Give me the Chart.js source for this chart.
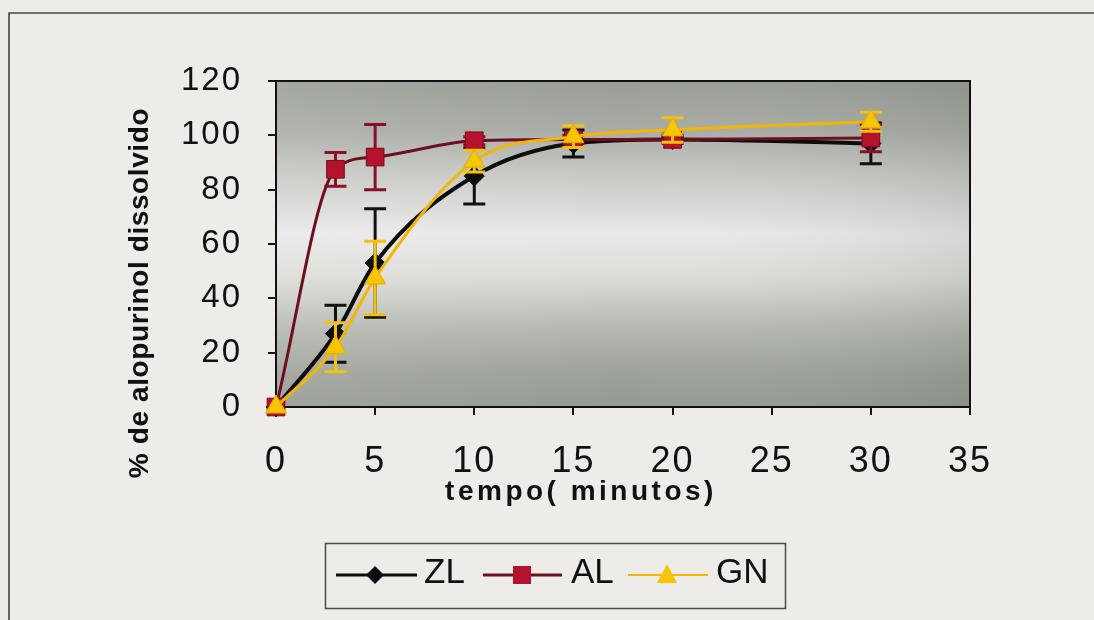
<!DOCTYPE html>
<html><head><meta charset="utf-8">
<script src="https://cdn.jsdelivr.net/npm/chart.js@4.4.0/dist/chart.umd.min.js"></script>
<style>html,body{margin:0;padding:0;background:#edece8;overflow:hidden;}canvas{display:block;}</style>
</head><body>
<canvas id="c" width="1094" height="620"></canvas>
<script>
// ---- data ----
const times = [0, 3, 5, 10, 15, 20, 30];
const zlValues = [0, 27, 53, 85, 97, 98.5, 97];
const zlErrors = [0, 10.5, 20, 10.3, 5, 1, 7.5];
const alValues = [0, 87.5, 92, 98, 98.5, 98.5, 99];
const alErrors = [0, 6.2, 12, 1.5, 1.5, 1.5, 5];
const gnValues = [0, 22, 47.5, 90.5, 99.5, 102, 105];
const gnErrors = [0, 9, 13.5, 4, 4, 4.5, 3.5];
const seriesNames = ['ZL', 'AL', 'GN'];
const xTicks = [0, 5, 10, 15, 20, 25, 30, 35];
const yTicks = [0, 20, 40, 60, 80, 100, 120];
const yTitle = '% de alopurinol dissolvido';
const xTitle = 'tempo( minutos)';

const FONT = "'Liberation Sans', Arial, sans-serif";

const backgroundPlugin = {
  id: 'bg',
  beforeDraw(chart) {
    const ctx = chart.ctx, a = chart.chartArea;
    ctx.save();
    ctx.fillStyle = '#edece8';
    ctx.fillRect(0, 0, chart.width, chart.height);
    // outer frame
    ctx.strokeStyle = '#444';
    ctx.lineWidth = 1.6;
    ctx.beginPath();
    ctx.moveTo(9, 620); ctx.lineTo(9, 13); ctx.lineTo(1094, 13);
    ctx.stroke();
    // plot gradient
    const g = ctx.createLinearGradient(0, a.top, 0, a.bottom);
    g.addColorStop(0, '#989d96');
    g.addColorStop(0.15, '#a8aca5');
    g.addColorStop(0.3, '#cacbc6');
    g.addColorStop(0.47, '#eae8ea');
    g.addColorStop(0.6, '#dcddd7');
    g.addColorStop(0.76, '#b4b8b1');
    g.addColorStop(0.9, '#9ca199');
    g.addColorStop(1, '#959a92');
    ctx.fillStyle = g;
    ctx.fillRect(a.left, a.top, a.right - a.left, a.bottom - a.top);
    const h = ctx.createLinearGradient(a.left, 0, a.right, 0);
    h.addColorStop(0, 'rgba(255,255,255,0.10)');
    h.addColorStop(0.5, 'rgba(255,255,255,0)');
    h.addColorStop(1, 'rgba(50,60,50,0.10)');
    ctx.fillStyle = h;
    ctx.fillRect(a.left, a.top, a.right - a.left, a.bottom - a.top);
    ctx.restore();
    ctx.letterSpacing = '2px';
  },
  beforeDatasetsDraw(chart) {
    const ctx = chart.ctx, a = chart.chartArea;
    ctx.save();
    ctx.strokeStyle = '#111';
    ctx.lineWidth = 2;
    ctx.strokeRect(a.left, a.top, a.right - a.left, a.bottom - a.top);
    ctx.restore();
  },
  afterDraw(chart) {
    const ctx = chart.ctx;
    ctx.save();
    ctx.letterSpacing = '0px';
    ctx.fillStyle = '#111';
    // y title
    ctx.save();
    ctx.translate(140, 293);
    ctx.rotate(-Math.PI / 2);
    ctx.font = 'bold 28px ' + FONT;
    ctx.letterSpacing = '0.6px';
    ctx.textAlign = 'center';
    ctx.textBaseline = 'middle';
    ctx.fillText(yTitle, 0, 0);
    ctx.restore();
    // x title
    ctx.font = 'bold 28px ' + FONT;
    ctx.letterSpacing = '3.5px';
    ctx.textAlign = 'center';
    ctx.textBaseline = 'alphabetic';
    ctx.fillText(xTitle, 581, 500);
    ctx.letterSpacing = '0px';
    // legend
    ctx.strokeStyle = '#4a4a4a';
    ctx.lineWidth = 1.5;
    ctx.strokeRect(325.5, 543.5, 460, 65);
    const ly = 575;
    const ds = chart.data.datasets;
    const items = [
      {x0: 336, x1: 417, mx: 375, tx: 424},
      {x0: 483, x1: 562, mx: 522, tx: 571},
      {x0: 628, x1: 708, mx: 667, tx: 716}
    ];
    items.forEach((it, i) => {
      const d = ds[i];
      ctx.strokeStyle = d.borderColor;
      ctx.lineWidth = i === 2 ? 2 : 3;
      ctx.beginPath(); ctx.moveTo(it.x0, ly); ctx.lineTo(it.x1, ly); ctx.stroke();
      ctx.fillStyle = d.pointBackgroundColor;
      ctx.beginPath();
      if (i === 0) {
        ctx.moveTo(it.mx, ly - 9); ctx.lineTo(it.mx + 9, ly); ctx.lineTo(it.mx, ly + 9); ctx.lineTo(it.mx - 9, ly);
      } else if (i === 1) {
        ctx.rect(it.mx - 9, ly - 9, 18, 18);
      } else {
        ctx.moveTo(it.mx, ly - 11); ctx.lineTo(it.mx + 10, ly + 8); ctx.lineTo(it.mx - 10, ly + 8);
      }
      ctx.closePath();
      ctx.fill();
      ctx.fillStyle = '#111';
      ctx.font = '35px ' + FONT;
      ctx.textAlign = 'left';
      ctx.textBaseline = 'alphabetic';
      ctx.fillText(seriesNames[i], it.tx, 583);
    });
    ctx.restore();
  }
};

const errorBarPlugin = {
  id: 'errorBars',
  beforeDatasetDraw(chart, args) {
    const ds = chart.data.datasets[args.index];
    if (!ds.errors) return;
    const xs = chart.scales.x, ys = chart.scales.y, ctx = chart.ctx;
    ctx.save();
    ctx.strokeStyle = ds.errorColor;
    ctx.lineWidth = 3;
    ds.data.forEach((p, i) => {
      const e = ds.errors[i];
      if (!e) return;
      const px = xs.getPixelForValue(p.x);
      const yt = ys.getPixelForValue(p.y + e);
      const yb = ys.getPixelForValue(p.y - e);
      ctx.beginPath();
      ctx.moveTo(px, yt); ctx.lineTo(px, yb);
      ctx.moveTo(px - 11, yt); ctx.lineTo(px + 11, yt);
      ctx.moveTo(px - 11, yb); ctx.lineTo(px + 11, yb);
      ctx.stroke();
    });
    ctx.restore();
  }
};

const toPoints = vals => times.map((t, i) => ({x: t, y: vals[i]}));

new Chart(document.getElementById('c'), {
  type: 'line',
  data: {
    datasets: [
      {label: seriesNames[0], data: toPoints(zlValues), errors: zlErrors, errorColor: '#111',
       borderColor: '#0d0d0d', backgroundColor: '#0d0d0d', pointBackgroundColor: '#0d0d0d', pointBorderColor: '#0d0d0d',
       borderWidth: 4, pointStyle: 'rectRot', pointRadius: 10, pointBorderWidth: 1, order: 2, clip: false,
       cubicInterpolationMode: 'monotone'},
      {label: seriesNames[1], data: toPoints(alValues), errors: alErrors, errorColor: '#8a1027',
       borderColor: '#6e0f1e', backgroundColor: '#b5122e', pointBackgroundColor: '#b5122e', pointBorderColor: '#7a0a1c',
       borderWidth: 3, pointStyle: 'rect', pointRadius: 12.5, pointBorderWidth: 1, order: 1, clip: false,
       cubicInterpolationMode: 'monotone'},
      {label: seriesNames[2], data: toPoints(gnValues), errors: gnErrors, errorColor: '#f4c20d',
       borderColor: '#f2b705', backgroundColor: '#f7c600', pointBackgroundColor: '#f7c600', pointBorderColor: '#e8a800',
       borderWidth: 3, pointStyle: 'triangle', pointRadius: 12, pointBorderWidth: 1, order: 0, clip: false,
       cubicInterpolationMode: 'monotone'}
    ]
  },
  options: {
    responsive: false,
    animation: false,
    devicePixelRatio: 1,
    layout: {padding: {left: 100, right: 124, top: 81, bottom: 113}},
    plugins: {legend: {display: false}, tooltip: {enabled: false}},
    scales: {
      x: {
        type: 'linear', min: 0, max: 35,
        afterBuildTicks: s => { s.ticks = xTicks.map(v => ({value: v})); },
        afterFit: s => { s.height = 100; },
        grid: {drawOnChartArea: false, drawTicks: true, tickLength: 8, color: '#111', lineWidth: 2},
        border: {color: '#111', width: 2},
        ticks: {padding: 25, color: '#111', maxRotation: 0, autoSkip: false, font: {family: FONT, size: 36}}
      },
      y: {
        type: 'linear', min: 0, max: 120,
        afterBuildTicks: s => { s.ticks = yTicks.map(v => ({value: v})); },
        afterFit: s => { s.width = 176; },
        grid: {drawOnChartArea: false, drawTicks: true, tickLength: 8, color: '#111', lineWidth: 2},
        border: {color: '#111', width: 2},
        ticks: {padding: 26, color: '#111', autoSkip: false, font: {family: FONT, size: 33}}
      }
    }
  },
  plugins: [backgroundPlugin, errorBarPlugin]
});
</script>
</body></html>
